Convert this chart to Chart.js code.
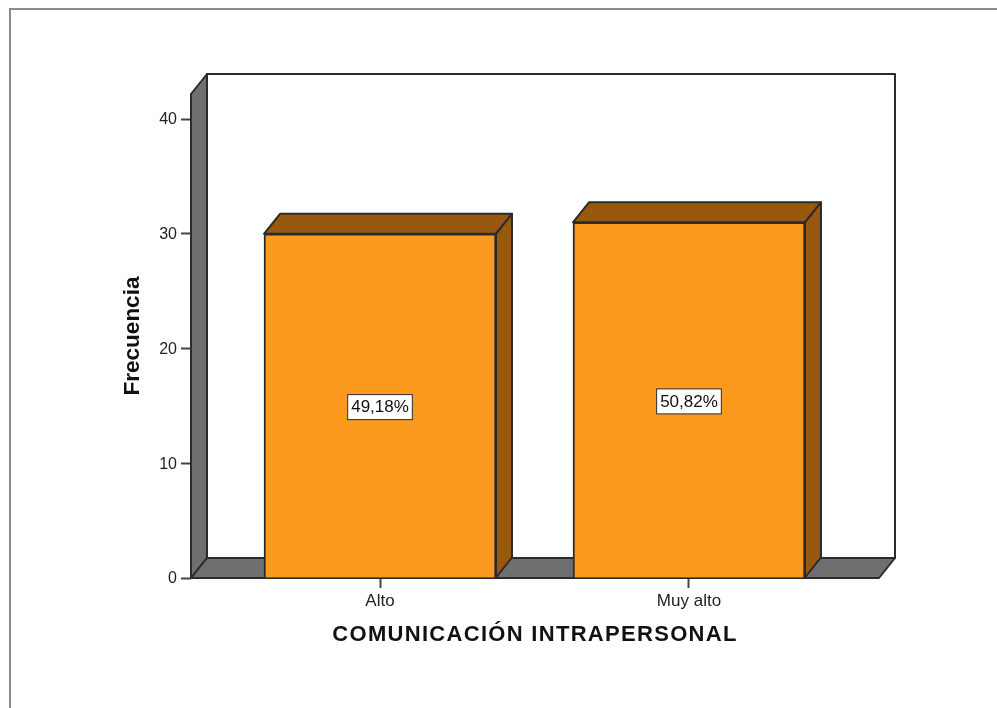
<!DOCTYPE html>
<html>
<head>
<meta charset="utf-8">
<script src="https://cdn.jsdelivr.net/npm/chart.js@4"></script>
<style>
    html, body { margin: 0; padding: 0; background: #fff; overflow: hidden; }
    #frame { position: absolute; left: 9px; top: 8px; width: 988px; height: 700px; border-top: 2px solid #8a8a8a; border-left: 2px solid #8a8a8a; box-sizing: border-box; }
    #myChart { position: absolute; left: 0; top: 0; }
</style>
</head>
<body>
<div id="frame"></div>
<canvas id="myChart" width="997" height="708"></canvas>
<script>
var Categories = ['Alto', 'Muy alto'];
var Frequency = [30, 31];
var Percent = ['49,18%', '50,82%'];
var YTicks = [0, 10, 20, 30, 40];
var XTitle = 'COMUNICACIÓN INTRAPERSONAL';

const DEPTH_X = 16;
const DEPTH_Y = -20;
const WALL = '#6f6f6f';
const BAR = '#fb9a1e';
const BAR_DARK = '#98590f';
const LINE = '#2b2b2b';
const FONT = '"Liberation Sans", Arial, sans-serif';

function poly(ctx, pts, fill) {
    ctx.beginPath();
    ctx.moveTo(pts[0][0], pts[0][1]);
    for (var i = 1; i < pts.length; i++) {
        ctx.lineTo(pts[i][0], pts[i][1]);
    }
    ctx.closePath();
    if (fill) {
        ctx.fillStyle = fill;
        ctx.fill();
    }
    ctx.strokeStyle = LINE;
    ctx.lineWidth = 2;
    ctx.stroke();
}

// box walls and bar sides, all taken from the chart scales
const box3d = {
    id: 'box3d',
    beforeDatasetsDraw: function (chart) {
        const a = chart.chartArea;
        const ctx = chart.ctx;
        ctx.save();
        ctx.lineJoin = 'round';
        poly(ctx, [[a.left + DEPTH_X, a.top + DEPTH_Y], [a.right + DEPTH_X, a.top + DEPTH_Y], [a.right + DEPTH_X, a.bottom + DEPTH_Y], [a.left + DEPTH_X, a.bottom + DEPTH_Y]], '#fff');
        poly(ctx, [[a.left, a.top], [a.left + DEPTH_X, a.top + DEPTH_Y], [a.left + DEPTH_X, a.bottom + DEPTH_Y], [a.left, a.bottom]], WALL);
        poly(ctx, [[a.left, a.bottom], [a.left + DEPTH_X, a.bottom + DEPTH_Y], [a.right + DEPTH_X, a.bottom + DEPTH_Y], [a.right, a.bottom]], WALL);

        chart.getDatasetMeta(0).data.forEach(function (bar) {
            const l = bar.x - bar.width / 2;
            const r = bar.x + bar.width / 2;
            poly(ctx, [[l, bar.y], [l + DEPTH_X, bar.y + DEPTH_Y], [r + DEPTH_X, bar.y + DEPTH_Y], [r, bar.y]], BAR_DARK);
            poly(ctx, [[r, bar.y], [r + DEPTH_X, bar.y + DEPTH_Y], [r + DEPTH_X, bar.base + DEPTH_Y], [r, bar.base]], BAR_DARK);
        });
        ctx.restore();
    },
    afterDatasetsDraw: function (chart) {
        const ctx = chart.ctx;
        const a = chart.chartArea;
        ctx.save();
        ctx.font = '17px ' + FONT;
        ctx.textAlign = 'center';
        ctx.textBaseline = 'middle';
        chart.getDatasetMeta(0).data.forEach(function (bar, i) {
            const midY = (bar.y + bar.base) / 2 + 1;
            const w = ctx.measureText(Percent[i]).width + 7;
            ctx.fillStyle = '#fff';
            ctx.fillRect(bar.x - w / 2, midY - 12, w, 25);
            ctx.strokeStyle = LINE;
            ctx.lineWidth = 1;
            ctx.strokeRect(bar.x - w / 2, midY - 12, w, 25);
            ctx.fillStyle = '#111';
            ctx.fillText(Percent[i], bar.x, midY + 1);
        });

        // the axis title is wider than the plain font, scale titles cannot take letter spacing
        ctx.font = 'bold 22px ' + FONT;
        ctx.letterSpacing = '1.3px';
        ctx.fillStyle = '#111';
        ctx.fillText(XTitle, (a.left + a.right) / 2, a.bottom + 57);
        ctx.restore();
    }
};

function initchart() {
    const data = {
        datasets: [
            {
                label: 'Frecuencia',
                data: Frequency.map(function (v, i) { return { x: i, y: v }; }),
                backgroundColor: BAR,
                borderColor: LINE,
                borderWidth: 2,
                barThickness: 232
            }
        ]
    };

    const config = {
        type: 'bar',
        data: data,
        plugins: [box3d],
        options: {
            responsive: false,
            animation: false,
            layout: { padding: { top: 94, right: 118, left: 0, bottom: 0 } },
            plugins: { legend: { display: false }, tooltip: { enabled: false } },
            scales: {
                x: {
                    type: 'linear',
                    offset: false,
                    min: -0.6117,
                    max: 1.615,
                    afterBuildTicks: function (scale) {
                        scale.ticks = Categories.map(function (c, i) { return { value: i }; });
                    },
                    afterFit: function (scale) { scale.height = 130; },
                    grid: { offset: false, drawOnChartArea: false, tickLength: 10, tickColor: '#444', tickWidth: 2 },
                    border: { display: false },
                    ticks: {
                        autoSkip: false,
                        maxRotation: 0,
                        padding: 3,
                        color: '#222',
                        font: { family: FONT, size: 17 },
                        callback: function (v) { return Categories[v]; }
                    }
                },
                y: {
                    min: 0,
                    max: 42.18,
                    afterBuildTicks: function (scale) {
                        scale.ticks = YTicks.map(function (v) { return { value: v }; });
                    },
                    afterFit: function (scale) { scale.width = 191; },
                    grid: { drawOnChartArea: false, tickLength: 10, tickColor: '#444', tickWidth: 2 },
                    border: { display: false },
                    ticks: {
                        padding: 4,
                        labelOffset: 1,
                        color: '#222',
                        font: { family: FONT, size: 16 }
                    },
                    title: {
                        display: true,
                        text: 'Frecuencia',
                        color: '#111',
                        font: { family: FONT, size: 22.5, weight: 'bold' },
                        padding: { top: 119, bottom: 0 }
                    }
                }
            }
        }
    };

    new Chart(document.getElementById('myChart'), config);
}

initchart();
</script>
</body>
</html>
